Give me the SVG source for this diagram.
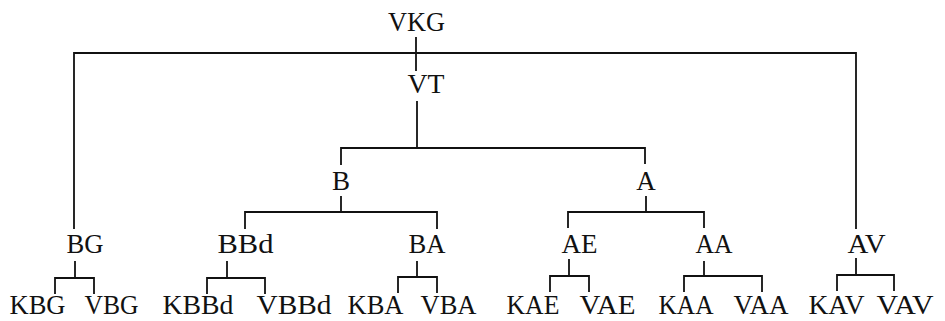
<svg xmlns="http://www.w3.org/2000/svg" width="945" height="321" viewBox="0 0 945 321">
<style>
text{font-family:"Liberation Serif","Times New Roman",serif;font-size:27px;fill:#111;text-anchor:middle}
.c path{fill:none;stroke:#111;stroke-width:1.8;stroke-linecap:square}
</style>
<rect width="945" height="321" fill="#fff"/>
<g class="c" id="connectors">
<path d="M416 38V70"/>
<path d="M74 228V53H856V228"/>
<path d="M417 102V148"/>
<path d="M341 164V148H645V163"/>
<path d="M341 197V212"/>
<path d="M245 228V212H437V228"/>
<path d="M646 197V212"/>
<path d="M568 227V212H704V227"/>
<path d="M75 262V278"/>
<path d="M55 293V278H94V293"/>
<path d="M227 262V278"/>
<path d="M207 293V278H265V293"/>
<path d="M417 262V277"/>
<path d="M398 292V277H437V292"/>
<path d="M569 260V276"/>
<path d="M550 291V276H589V291"/>
<path d="M704 262V276"/>
<path d="M684 291V276H762V291"/>
<path d="M856 259V275"/>
<path d="M837 290V275H894V290"/>
</g>
<g id="VKG"><text x="416.5" y="31" textLength="57" lengthAdjust="spacingAndGlyphs">VKG</text></g>
<g id="VT"><text x="426" y="93" textLength="37" lengthAdjust="spacingAndGlyphs">VT</text></g>
<g id="B"><text x="341" y="190">B</text></g>
<g id="A"><text x="646" y="190">A</text></g>
<g id="BG"><text x="85" y="253" textLength="37" lengthAdjust="spacingAndGlyphs">BG</text></g>
<g id="BBd"><text x="245.5" y="253" textLength="56" lengthAdjust="spacingAndGlyphs">BBd</text></g>
<g id="BA"><text x="427" y="253" textLength="37" lengthAdjust="spacingAndGlyphs">BA</text></g>
<g id="AE"><text x="579.5" y="253" textLength="36" lengthAdjust="spacingAndGlyphs">AE</text></g>
<g id="AA"><text x="714" y="253" textLength="37" lengthAdjust="spacingAndGlyphs">AA</text></g>
<g id="AV"><text x="866.5" y="253" textLength="38" lengthAdjust="spacingAndGlyphs">AV</text></g>
<g id="KBG"><text x="37.5" y="314" textLength="56" lengthAdjust="spacingAndGlyphs">KBG</text></g>
<g id="VBG"><text x="111.5" y="314" textLength="54" lengthAdjust="spacingAndGlyphs">VBG</text></g>
<g id="KBBd"><text x="198" y="314" textLength="71" lengthAdjust="spacingAndGlyphs">KBBd</text></g>
<g id="VBBd"><text x="294" y="314" textLength="75" lengthAdjust="spacingAndGlyphs">VBBd</text></g>
<g id="KBA"><text x="375.5" y="314" textLength="56" lengthAdjust="spacingAndGlyphs">KBA</text></g>
<g id="VBA"><text x="448.5" y="314" textLength="56" lengthAdjust="spacingAndGlyphs">VBA</text></g>
<g id="KAE"><text x="533" y="314" textLength="53" lengthAdjust="spacingAndGlyphs">KAE</text></g>
<g id="VAE"><text x="607.5" y="314" textLength="56" lengthAdjust="spacingAndGlyphs">VAE</text></g>
<g id="KAA"><text x="686" y="314" textLength="55" lengthAdjust="spacingAndGlyphs">KAA</text></g>
<g id="VAA"><text x="761" y="314" textLength="55" lengthAdjust="spacingAndGlyphs">VAA</text></g>
<g id="KAV"><text x="836.5" y="314" textLength="56" lengthAdjust="spacingAndGlyphs">KAV</text></g>
<g id="VAV"><text x="905" y="314" textLength="57" lengthAdjust="spacingAndGlyphs">VAV</text></g>
</svg>
